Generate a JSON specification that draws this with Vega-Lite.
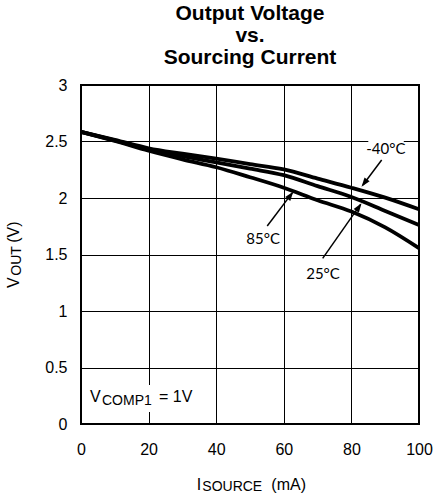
{
  "$schema": "https://vega.github.io/schema/vega-lite/v6.json",
  "width": 338,
  "height": 339,
  "autosize": {"type": "none"},
  "padding": {"left": 81, "top": 85, "right": 18, "bottom": 73},
  "background": "white",
  "config": {
    "view": {"stroke": "black", "strokeWidth": 2},
    "font": "Liberation Sans",
    "text": {"font": "Liberation Sans", "color": "black"}
  },
  "title": {
    "text": ["Output Voltage", "vs.", "Sourcing Current"],
    "font": "Liberation Sans",
    "fontSize": 21,
    "fontWeight": "bold",
    "lineHeight": 22,
    "anchor": "middle",
    "frame": "group",
    "baseline": "bottom",
    "offset": 19,
    "dy": 31,
    "color": "black"
  },
  "datasets": {
    "curves": [
      {"x": 0, "y": 2.585, "series": "-40°C"},
      {"x": 10, "y": 2.515, "series": "-40°C"},
      {"x": 20, "y": 2.44, "series": "-40°C"},
      {"x": 30, "y": 2.392, "series": "-40°C"},
      {"x": 40, "y": 2.348, "series": "-40°C"},
      {"x": 50, "y": 2.30, "series": "-40°C"},
      {"x": 60, "y": 2.253, "series": "-40°C"},
      {"x": 70, "y": 2.172, "series": "-40°C"},
      {"x": 80, "y": 2.091, "series": "-40°C"},
      {"x": 90, "y": 2.003, "series": "-40°C"},
      {"x": 100, "y": 1.90, "series": "-40°C"},
      {"x": 0, "y": 2.585, "series": "25°C"},
      {"x": 10, "y": 2.51, "series": "25°C"},
      {"x": 20, "y": 2.43, "series": "25°C"},
      {"x": 30, "y": 2.37, "series": "25°C"},
      {"x": 40, "y": 2.316, "series": "25°C"},
      {"x": 50, "y": 2.26, "series": "25°C"},
      {"x": 60, "y": 2.202, "series": "25°C"},
      {"x": 70, "y": 2.105, "series": "25°C"},
      {"x": 80, "y": 2.009, "series": "25°C"},
      {"x": 90, "y": 1.886, "series": "25°C"},
      {"x": 100, "y": 1.76, "series": "25°C"},
      {"x": 0, "y": 2.585, "series": "85°C"},
      {"x": 10, "y": 2.505, "series": "85°C"},
      {"x": 20, "y": 2.418, "series": "85°C"},
      {"x": 30, "y": 2.342, "series": "85°C"},
      {"x": 40, "y": 2.272, "series": "85°C"},
      {"x": 50, "y": 2.184, "series": "85°C"},
      {"x": 60, "y": 2.091, "series": "85°C"},
      {"x": 70, "y": 1.98, "series": "85°C"},
      {"x": 80, "y": 1.88, "series": "85°C"},
      {"x": 90, "y": 1.74, "series": "85°C"},
      {"x": 100, "y": 1.556, "series": "85°C"}
    ]
  },
  "encoding": {
    "x": {
      "field": "x",
      "type": "quantitative",
      "scale": {"domain": [0, 100], "nice": false, "zero": false},
      "axis": {
        "values": [0, 20, 40, 60, 80, 100],
        "title": null,
        "grid": true,
        "gridColor": "black",
        "gridOpacity": 1,
        "gridWidth": 1,
        "domain": false,
        "ticks": false,
        "tickSize": 0,
        "labelFont": "Liberation Sans",
        "labelFontSize": 16,
        "labelColor": "black",
        "labelPadding": 17,
        "labelFlush": false
      }
    },
    "y": {
      "field": "y",
      "type": "quantitative",
      "scale": {"domain": [0, 3], "nice": false, "zero": false},
      "axis": {
        "values": [0, 0.5, 1, 1.5, 2, 2.5, 3],
        "format": "~g",
        "title": null,
        "grid": true,
        "gridColor": "black",
        "gridOpacity": 1,
        "gridWidth": 1,
        "domain": false,
        "ticks": false,
        "tickSize": 0,
        "labelFont": "Liberation Sans",
        "labelFontSize": 16,
        "labelColor": "black",
        "labelPadding": 14,
        "labelFlush": false
      }
    }
  },
  "layer": [
    {
      "data": {"values": [
        {"x": 85, "x2": 95.5, "y": 2.35, "y2": 2.54},
        {"x": 14, "x2": 27, "y": 0.106, "y2": 0.345}
      ]},
      "mark": {"type": "rect", "fill": "white", "stroke": null},
      "encoding": {"x2": {"field": "x2"}, "y2": {"field": "y2"}}
    },
    {
      "data": {"name": "curves"},
      "mark": {"type": "line", "color": "black", "strokeWidth": 3.8, "interpolate": "monotone"},
      "encoding": {"detail": {"field": "series", "type": "nominal"}}
    },
    {
      "data": {"values": [
        {"x": 88.96, "y": 2.336, "x2": 83.4, "y2": 2.115},
        {"x": 55.1, "y": 1.752, "x2": 62.5, "y2": 2.045},
        {"x": 71.5, "y": 1.466, "x2": 82.7, "y2": 1.943}
      ]},
      "mark": {"type": "rule", "color": "black", "strokeWidth": 1.5},
      "encoding": {"x2": {"field": "x2"}, "y2": {"field": "y2"}}
    },
    {
      "data": {"values": [{"x": 83.0, "y": 2.10}]},
      "mark": {"type": "point", "shape": "M0,0L-0.45,1.3L0.45,1.3Z", "filled": true, "color": "black", "opacity": 1, "size": 200, "angle": 217}
    },
    {
      "data": {"values": [{"x": 62.8, "y": 2.056}]},
      "mark": {"type": "point", "shape": "M0,0L-0.45,1.3L0.45,1.3Z", "filled": true, "color": "black", "opacity": 1, "size": 200, "angle": 37}
    },
    {
      "data": {"values": [{"x": 83.0, "y": 1.953}]},
      "mark": {"type": "point", "shape": "M0,0L-0.45,1.3L0.45,1.3Z", "filled": true, "color": "black", "opacity": 1, "size": 200, "angle": 35}
    },
    {
      "data": {"values": [
        {"x": 90.2, "y": 2.43, "label": "-40°C"},
        {"x": 53.9, "y": 1.637, "label": "85°C"},
        {"x": 71.6, "y": 1.327, "label": "25°C"}
      ]},
      "mark": {"type": "text", "font": "Lato", "fontSize": 15, "align": "center", "baseline": "middle", "color": "black"},
      "encoding": {"text": {"field": "label"}}
    },
    {
      "data": {"values": [{"x": 2.66, "y": 0.197, "t": "V"}]},
      "mark": {"type": "text", "fontSize": 16, "align": "left", "baseline": "alphabetic"},
      "encoding": {"text": {"field": "t"}}
    },
    {
      "data": {"values": [{"x": 2.66, "y": 0.197, "t": "COMP1"}]},
      "mark": {"type": "text", "fontSize": 14, "align": "left", "baseline": "alphabetic", "dx": 12, "dy": 3},
      "encoding": {"text": {"field": "t"}}
    },
    {
      "data": {"values": [{"x": 2.66, "y": 0.197, "t": "= 1V"}]},
      "mark": {"type": "text", "fontSize": 16, "align": "left", "baseline": "alphabetic", "dx": 69},
      "encoding": {"text": {"field": "t"}}
    },
    {
      "data": {"values": [{"x": 34.26, "y": -0.584, "t": "I"}]},
      "mark": {"type": "text", "fontSize": 16, "align": "left", "baseline": "alphabetic"},
      "encoding": {"text": {"field": "t"}}
    },
    {
      "data": {"values": [{"x": 34.26, "y": -0.584, "t": "SOURCE"}]},
      "mark": {"type": "text", "fontSize": 14, "align": "left", "baseline": "alphabetic", "dx": 5.5, "dy": 1.5},
      "encoding": {"text": {"field": "t"}}
    },
    {
      "data": {"values": [{"x": 34.26, "y": -0.584, "t": "(mA)"}]},
      "mark": {"type": "text", "fontSize": 16, "align": "left", "baseline": "alphabetic", "dx": 74.5},
      "encoding": {"text": {"field": "t"}}
    },
    {
      "data": {"values": [{"x": -18.25, "y": 1.204, "t": "V"}]},
      "mark": {"type": "text", "fontSize": 16, "align": "left", "baseline": "alphabetic", "angle": 270},
      "encoding": {"text": {"field": "t"}}
    },
    {
      "data": {"values": [{"x": -18.25, "y": 1.204, "t": "OUT"}]},
      "mark": {"type": "text", "fontSize": 14, "align": "left", "baseline": "alphabetic", "angle": 270, "dx": 12.3, "dy": 2},
      "encoding": {"text": {"field": "t"}}
    },
    {
      "data": {"values": [{"x": -18.25, "y": 1.204, "t": "(V)"}]},
      "mark": {"type": "text", "fontSize": 16, "align": "left", "baseline": "alphabetic", "angle": 270, "dx": 45.2},
      "encoding": {"text": {"field": "t"}}
    }
  ]
}
